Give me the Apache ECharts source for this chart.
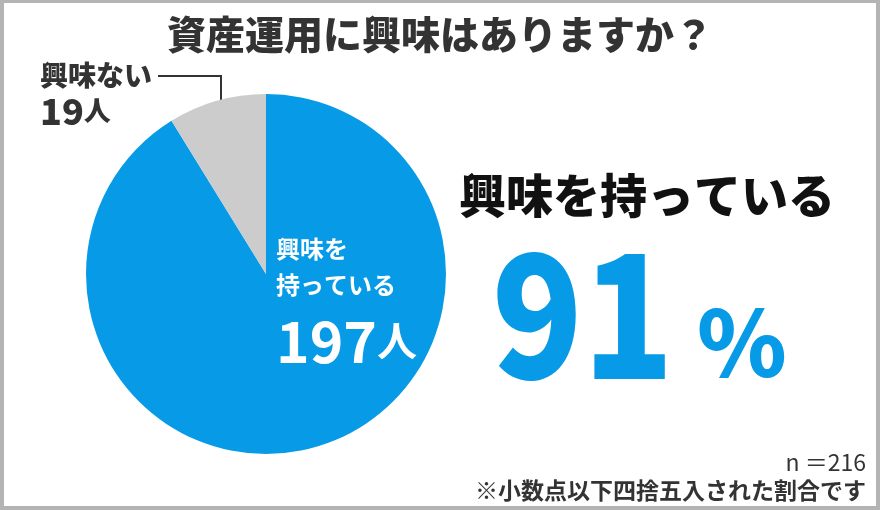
<!DOCTYPE html>
<html>
<head>
<meta charset="utf-8">
<script src="https://cdn.jsdelivr.net/npm/echarts@6/dist/echarts.min.js"></script>
<style>
  html, body { margin: 0; padding: 0; background: #fff; }
  #chart {
    width: 880px; height: 510px; box-sizing: border-box;
    border: 4px solid #b4b4b4; border-top-width: 3px;
  }
</style>
</head>
<body>
<div id="chart"></div>
<script>
// データ
const titleText = '資産運用に興味はありますか？';
const categories = ['興味を持っている', '興味ない'];
const counts = [197, 19];
const colors = ['#079be7', '#cccccc'];
const noteText = '※小数点以下四捨五入された割合です';

const total = counts.reduce((a, b) => a + b, 0);
const pct = Math.round(counts[0] / total * 100);

const FONT = '"Noto Sans CJK JP", "Noto Sans", sans-serif';

const chart = echarts.init(document.getElementById('chart'));

const option = {
  animation: false,
  textStyle: { fontFamily: FONT },
  series: [{
    type: 'pie',
    center: [262, 271],
    radius: [0, 180],
    startAngle: 90,
    clockwise: true,
    silent: true,
    data: categories.map((name, i) => ({
      name: name,
      value: counts[i],
      itemStyle: { color: colors[i] }
    })),
    label: {
      show: true,
      fontFamily: FONT,
      formatter: (p) => {
        if (p.dataIndex === 0) {
          return '{a|' + p.name.slice(0, 3) + '}\n{a|' + p.name.slice(3) + '}\n{n|' + p.value + '}{u|人}';
        }
        return '{a|' + p.name + '}\n{n|' + p.value + '}{u|人}';
      },
      rich: {}
    },
    labelLine: { show: true, lineStyle: { color: '#333', width: 2 }, smooth: false },
    labelLayout: (params) => {
      if (params.dataIndex === 0) {
        return { x: 272, y: 228, align: 'left', verticalAlign: 'top' };
      }
      return {
        x: 36, y: 56, align: 'left', verticalAlign: 'top',
        labelLinePoints: [[154, 73], [217, 73], [217, 117]]
      };
    }
  }],
  graphic: [
    {
      type: 'text', x: 436, y: 31,
      style: { text: titleText, fill: '#333', font: '900 39px ' + FONT, align: 'center', verticalAlign: 'middle' }
    },
    {
      type: 'text', x: 643, y: 192,
      style: { text: categories[0], fill: '#111', font: '900 47px ' + FONT, align: 'center', verticalAlign: 'middle' }
    },
    {
      type: 'text', x: 670, y: 311, scaleX: 0.87,
      style: { text: String(pct), fill: '#079be7', font: '900 172px ' + FONT, align: 'right', verticalAlign: 'middle' }
    },
    {
      type: 'text', x: 693, y: 339,
      style: { text: '%', fill: '#079be7', font: '900 91px ' + FONT, align: 'left', verticalAlign: 'middle' }
    },
    {
      type: 'text', x: 862, y: 459,
      style: { text: 'n ＝' + total, fill: '#333', font: '23px ' + FONT, align: 'right', verticalAlign: 'middle' }
    },
    {
      type: 'text', x: 862, y: 487,
      style: { text: noteText, fill: '#333', font: 'bold 23px ' + FONT, align: 'right', verticalAlign: 'middle' }
    }
  ]
};

// ラベルのスタイル（スライスごと）
option.series[0].data[0].label = {
  color: '#fff',
  rich: {
    a: { color: '#fff', fontSize: 24, fontWeight: 'bold', lineHeight: 36, fontFamily: FONT },
    n: { color: '#fff', fontSize: 57, fontWeight: 'bold', lineHeight: 76, fontFamily: FONT },
    u: { color: '#fff', fontSize: 40, fontWeight: 'bold', lineHeight: 76, fontFamily: FONT }
  }
};
option.series[0].data[0].labelLine = { show: false };
option.series[0].data[1].label = {
  color: '#333',
  rich: {
    a: { color: '#333', fontSize: 28, fontWeight: 900, lineHeight: 32, fontFamily: FONT },
    n: { color: '#333', fontSize: 36, fontWeight: 900, lineHeight: 40, fontFamily: FONT },
    u: { color: '#333', fontSize: 27, fontWeight: 900, lineHeight: 40, fontFamily: FONT }
  }
};

chart.setOption(option);
</script>
</body>
</html>
